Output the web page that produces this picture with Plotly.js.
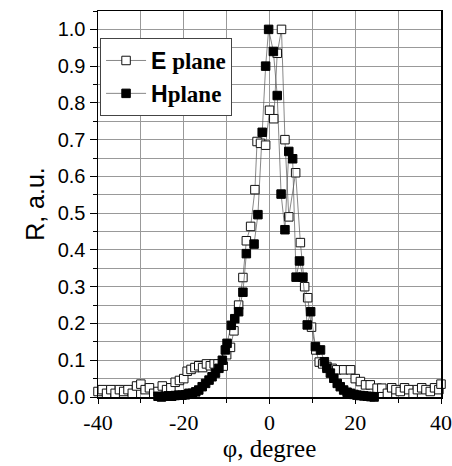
<!DOCTYPE html>
<html>
<head>
<meta charset="utf-8">
<script src="https://cdn.plot.ly/plotly-3.0.1.min.js"></script>
<style>html,body{margin:0;padding:0;background:#fff;}#chart{width:452px;height:466px;}</style>
</head>
<body>
<div id="chart"></div>
<script>
// E plane (open squares)
var eX = [-40,-39,-38,-37,-36,-35,-34,-33,-32,-31,-30,-29,-28,-27,-26,-25,-24,-23,-22,-21,-20,
  -19.2,-18.3,-17.4,-16.5,-15.6,-14.7,-13.8,-12.9,-12,-10.8,-10,-9.1,-8.3,-7.2,-6.2,-5.4,-4.4,-3.4,
  -2.9,-2.1,-0.9,0,1.0,1.8,2.8,3.6,4.5,6.1,7.2,8.2,8.9,9.8,10.8,11.6,12.4,13.4,14.6,15.7,17.3,18.9,
  20,21.2,22.4,23.5,25.1,26.2,27.5,28.5,29.5,30.5,31.5,32.5,33.5,34.5,35.5,36.5,37.5,38.5,39.5,40];
var eY = [0.015,0.02,0.01,0.02,0.01,0.02,0.015,0.02,0.01,0.03,0.035,0.02,0.025,0.01,0.015,0.03,0.02,0.025,0.04,0.045,0.05,
  0.07,0.075,0.08,0.085,0.08,0.09,0.085,0.09,0.09,0.084,0.115,0.135,0.18,0.25,0.325,0.425,0.464,0.564,
  0.695,0.69,0.685,0.78,0.757,0.935,1.0,0.70,0.49,0.61,0.42,0.30,0.27,0.19,0.128,0.095,0.09,0.083,0.078,0.074,0.074,0.074,
  0.05,0.042,0.033,0.033,0.024,0.024,0.01,0.025,0.02,0.015,0.025,0.02,0.01,0.02,0.025,0.02,0.015,0.025,0.02,0.035];
// H plane (filled squares)
var hX = [-26,-25.2,-24.4,-23.6,-22.8,-22,-21.2,-20.4,-19.6,-18.8,-18,-17.2,-16.5,-15.7,-14.9,-14.1,-13.4,-12.6,-11.8,-11,-10.3,
  -9.9,-8.9,-8.1,-7.2,-6.2,-5.4,-3.6,-2.7,-1.7,-0.9,-0.2,0.9,1.8,2.7,3.6,4.5,5.4,6.2,7.0,7.8,8.8,9.6,10.7,11.9,
  12.8,13.4,14.2,15.0,15.8,16.5,17.3,18.1,18.9,19.7,20.4,21.2,22.0,22.8,23.6,24.4];
var hY = [0.002,0.0,0.002,0.003,0.002,0.004,0.005,0.005,0.006,0.01,0.01,0.014,0.019,0.028,0.037,0.046,0.055,0.065,0.078,0.10,0.128,
  0.146,0.195,0.213,0.232,0.285,0.39,0.416,0.496,0.72,0.90,1.0,0.94,0.82,0.552,0.455,0.668,0.648,0.326,0.37,0.326,0.196,0.232,0.137,0.128,
  0.096,0.078,0.065,0.051,0.037,0.028,0.019,0.013,0.010,0.007,0.005,0.004,0.003,0.002,0.001,0.0];
var xTicks = [-40,-20,0,20,40];
var yTicks = [0,0.1,0.2,0.3,0.4,0.5,0.6,0.7,0.8,0.9,1.0];
var yTickText = ['0.0','0.1','0.2','0.3','0.4','0.5','0.6','0.7','0.8','0.9','1.0'];
var seriesNames = ['<span style="font-family:\'Liberation Sans\'">E</span><span style="font-family:\'Liberation Serif\'"> plane</span>',
                   '<span style="font-family:\'Liberation Sans\'">H</span><span style="font-family:\'Liberation Serif\'">plane</span>'];

var traces = [
  {x:eX, y:eY, type:'scatter', mode:'lines+markers', name:seriesNames[0],
   line:{color:'#555', width:0.7},
   marker:{symbol:'square', size:8.5, color:'#fff', line:{color:'#111', width:1}}, cliponaxis:false},
  {x:hX, y:hY, type:'scatter', mode:'lines+markers', name:seriesNames[1],
   line:{color:'#555', width:0.7},
   marker:{symbol:'square', size:8.5, color:'#000', line:{color:'#000', width:1}}, cliponaxis:false}
];
var layout = {
  width:452, height:466,
  margin:{l:98, r:11, t:11, b:69},
  paper_bgcolor:'#fff', plot_bgcolor:'#fff',
  showlegend:true,
  legend:{x:0.006, y:0.93, xanchor:'left', yanchor:'top', bgcolor:'#fff', bordercolor:'#444', borderwidth:1,
    font:{family:'Liberation Serif', size:23, color:'#000', weight:'bold'}, tracegroupgap:0, itemwidth:40},
  xaxis:{range:[-40,40], tickvals:xTicks, ticktext:xTicks.map(String), ticks:'outside', ticklen:5, tickcolor:'#000',
    showgrid:true, gridcolor:'#999', gridwidth:1, zeroline:false,
    minor:{dtick:10, tick0:0, ticks:'outside', ticklen:4, tickcolor:'#000', showgrid:true, gridcolor:'#999', gridwidth:1},
    showline:true, linecolor:'#000', linewidth:1.5, mirror:true,
    tickfont:{family:'Liberation Serif', size:22, color:'#000'},
    title:{text:'φ, degree', font:{family:'Liberation Serif', size:25, color:'#000'}, standoff:4}},
  yaxis:{range:[0,1.05], tickvals:yTicks, ticktext:yTickText, ticks:'outside', ticklen:7, tickcolor:'#000',
    showgrid:true, gridcolor:'#999', gridwidth:1, zeroline:false,
    minor:{dtick:0.05, tick0:0, ticks:'outside', ticklen:4, tickcolor:'#000', showgrid:true, gridcolor:'#999', gridwidth:1},
    showline:true, linecolor:'#000', linewidth:1.5, mirror:true,
    tickfont:{family:'Liberation Sans', size:20, color:'#000'},
    title:{text:'R, a.u.', font:{family:'Liberation Sans', size:25, color:'#000'}, standoff:6}}
};
Plotly.newPlot('chart', traces, layout, {displayModeBar:false, staticPlot:true});
</script>
</body>
</html>
